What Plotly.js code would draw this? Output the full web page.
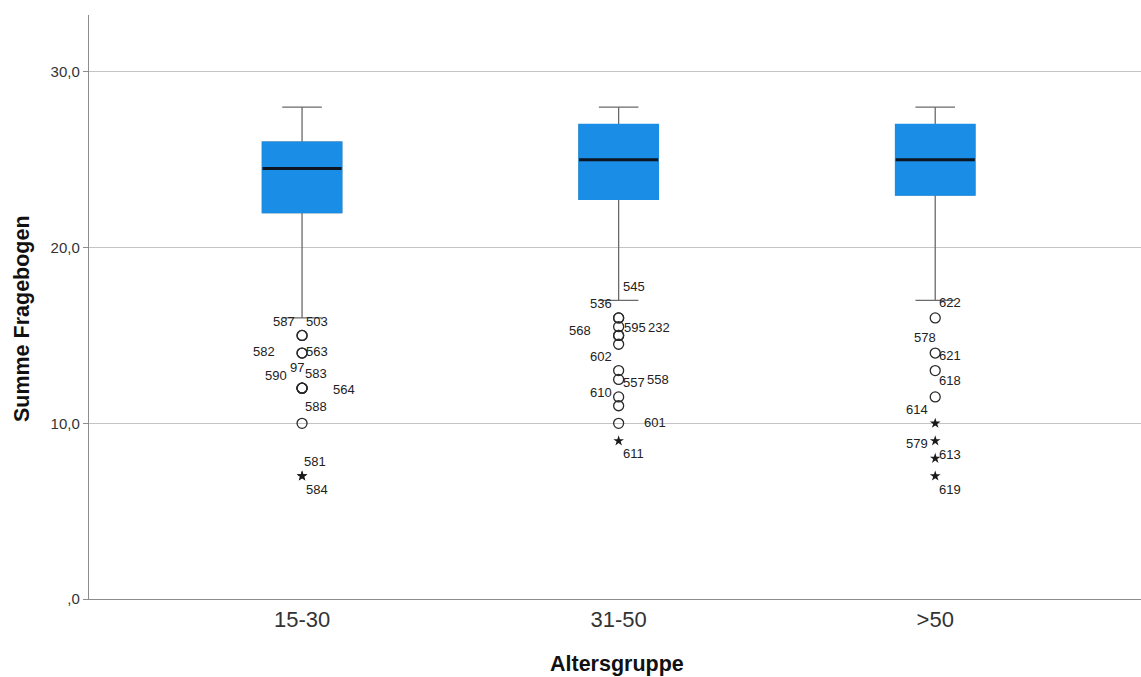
<!DOCTYPE html>
<html>
<head>
<meta charset="utf-8">
<script src="https://cdn.plot.ly/plotly-3.0.1.min.js"></script>
<style>
  html, body { margin: 0; padding: 0; background: #ffffff; }
  #chart { width: 1141px; height: 677px; }
</style>
</head>
<body>
<div id="chart"></div>
<script>
// Age groups and their box statistics
const categories = ['15-30', '31-50', '>50'];
const q1 = [22, 22.75, 23];
const medians = [24.5, 25, 25];
const q3 = [26, 27, 27];
const lowerWhisker = [16, 17, 17];
const upperWhisker = [28, 28, 28];

// Outlying cases: group index, value and case number
const outlierGroup = [0, 0, 0, 0, 0, 0, 0, 0, 0, 0, 0,
                      1, 1, 1, 1, 1, 1, 1, 1, 1, 1, 1, 1,
                      2, 2, 2, 2, 2, 2, 2, 2];
const outlierValue = [15, 15, 14, 14, 12, 12, 12, 12, 10, 7, 7,
                      16, 16, 15.5, 15, 15, 14.5, 13, 12.5, 11.5, 11, 10, 9,
                      16, 14, 13, 11.5, 10, 9, 8, 7];
const outlierId = ['587', '503', '582', '563', '590', '97', '583', '564', '588', '581', '584',
                   '545', '536', '595', '568', '232', '602', '558', '557', '610', '', '601', '611',
                   '622', '578', '621', '618', '614', '579', '613', '619'];

// Label placement (pixels, relative to the point)
const labelOffset = {
  '587': [-18, -14], '503': [15, -14], '582': [-38, -2], '563': [15, -2],
  '590': [-26, -13], '97': [-5, -21], '583': [14, -15], '564': [42, 1],
  '588': [14, -17], '581': [13, -15], '584': [15, 13],
  '545': [15, -31], '536': [-18, -14], '595': [16, 1], '568': [-39, -5],
  '232': [40, -8], '602': [-18, 12], '558': [39, 9], '557': [15, 3],
  '610': [-18, -4], '601': [36, -1], '611': [15, 13],
  '622': [15, -15], '578': [-10, -16], '621': [15, -15], '618': [15, -16],
  '614': [-18, -14], '579': [-18, 3], '613': [15, -4], '619': [15, 13]
};

const BLUE = '#1a8ee6';
const WHISKER = '#6a6a6a';
const FONT = 'Liberation Sans, Arial, sans-serif';
const BOX_W = 0.25;
const xs = categories.map((c, i) => i);

// Extremes (more than 3 IQR below Q1) are drawn as stars, others as open circles
const isExtreme = outlierValue.map((v, k) => {
  const g = outlierGroup[k];
  return v < q1[g] - 3 * (q3[g] - q1[g]);
});

const circX = [], circY = [], starX = [], starY = [];
outlierValue.forEach((v, k) => {
  if (isExtreme[k]) { starX.push(outlierGroup[k]); starY.push(v); }
  else { circX.push(outlierGroup[k]); circY.push(v); }
});

// Median segments across each box
const medX = [], medY = [];
xs.forEach(i => {
  medX.push(i - BOX_W / 2, i + BOX_W / 2, null);
  medY.push(medians[i], medians[i], null);
});

const traces = [
  { // whiskers and caps
    type: 'box', x: xs, q1: q1, median: medians, q3: q3,
    lowerfence: lowerWhisker, upperfence: upperWhisker,
    width: BOX_W, whiskerwidth: 0.5, boxpoints: false,
    line: { color: WHISKER, width: 1.3 }, fillcolor: BLUE,
    hoverinfo: 'skip', showlegend: false
  },
  { // filled box body
    type: 'box', x: xs, q1: q1, median: medians, q3: q3,
    lowerfence: q1, upperfence: q3,
    width: BOX_W, whiskerwidth: 0, boxpoints: false,
    line: { color: BLUE, width: 1.6 }, fillcolor: BLUE,
    hoverinfo: 'skip', showlegend: false
  },
  { // medians
    type: 'scatter', mode: 'lines', x: medX, y: medY,
    line: { color: '#0d1620', width: 3 },
    hoverinfo: 'skip', showlegend: false
  },
  { // outliers
    type: 'scatter', mode: 'markers', x: circX, y: circY,
    marker: { symbol: 'circle-open', size: 10, color: '#2a2a2a', line: { width: 1.3 } },
    hoverinfo: 'skip', showlegend: false
  },
  { // extremes
    type: 'scatter', mode: 'markers', x: starX, y: starY,
    marker: { symbol: 'star', size: 8, color: '#1a1a1a' },
    hoverinfo: 'skip', showlegend: false
  }
];

const annotations = outlierValue.map((v, k) => {
  const id = outlierId[k];
  if (!id) return null;
  const off = labelOffset[id] || [15, 0];
  return {
    x: outlierGroup[k], y: v, xref: 'x', yref: 'y',
    text: id, showarrow: false,
    xshift: off[0], yshift: -off[1],
    font: { family: FONT, size: 13, color: '#222222' }
  };
}).filter(a => a);

// Axis titles
annotations.push({
  xref: 'paper', yref: 'paper', x: -0.0637, y: 0.481,
  xanchor: 'center', yanchor: 'middle', textangle: -90, showarrow: false,
  text: 'Summe Fragebogen',
  font: { family: FONT, size: 21.5, color: '#111111', weight: 'bold' }
});
annotations.push({
  xref: 'paper', yref: 'paper', x: 0.502, y: -0.111,
  xanchor: 'center', yanchor: 'middle', showarrow: false,
  text: 'Altersgruppe',
  font: { family: FONT, size: 21.5, color: '#111111', weight: 'bold' }
});

const layout = {
  width: 1141, height: 677,
  margin: { l: 89, r: 0, t: 15, b: 78 },
  paper_bgcolor: '#ffffff', plot_bgcolor: '#ffffff',
  showlegend: false, hovermode: false,
  font: { family: FONT, color: '#333333' },
  xaxis: {
    range: [-0.673, 2.65],
    tickvals: xs, ticktext: categories,
    tickfont: { family: FONT, size: 22, color: '#333333' },
    ticks: '', showgrid: false, zeroline: false,
    showline: true, linecolor: '#8c8c8c', linewidth: 1.2
  },
  yaxis: {
    range: [0, 33.24],
    tickvals: [0, 10, 20, 30], ticktext: [',0', '10,0', '20,0', '30,0'],
    tickfont: { family: FONT, size: 15, color: '#333333' },
    ticks: 'outside', ticklen: 5, tickcolor: '#8c8c8c',
    showgrid: true, gridcolor: '#c4c4c4', gridwidth: 1, zeroline: false,
    showline: true, linecolor: '#8c8c8c', linewidth: 1.2
  },
  annotations: annotations
};

Plotly.newPlot('chart', traces, layout, { staticPlot: true, displayModeBar: false });
</script>
</body>
</html>
